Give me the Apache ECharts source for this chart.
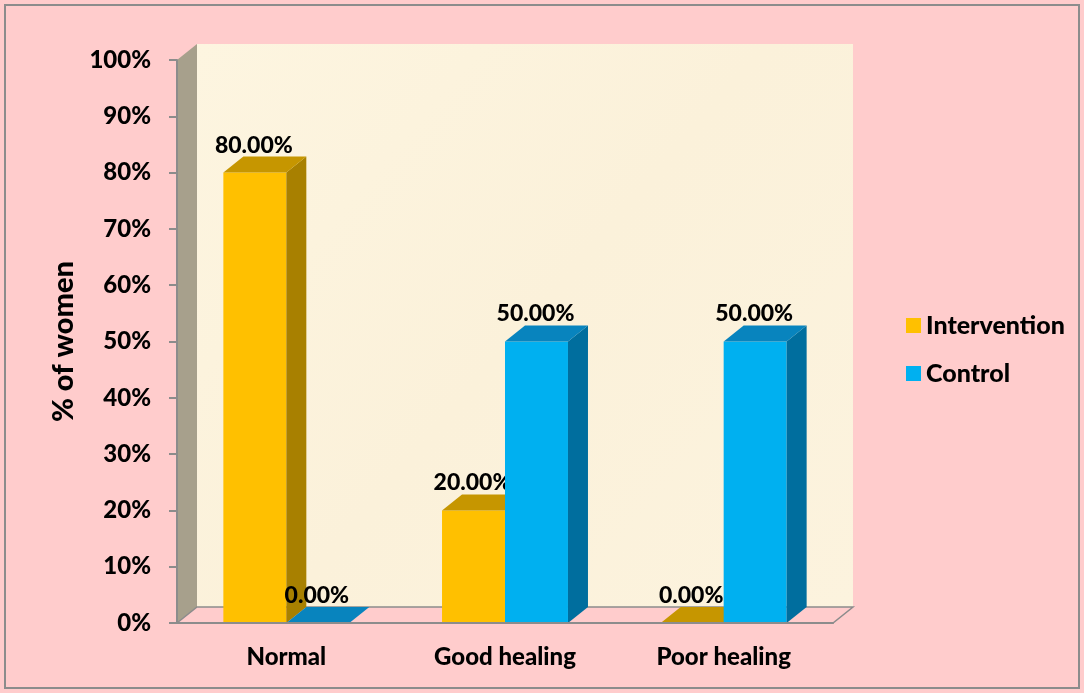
<!DOCTYPE html>
<html>
<head>
<meta charset="utf-8">
<script src="https://cdn.jsdelivr.net/npm/echarts@6/dist/echarts.min.js"></script>
<style>
  html, body { margin: 0; padding: 0; background: #FFCCCC; }
  #chart { width: 1084px; height: 693px; }
</style>
</head>
<body>
<div id="chart"></div>
<script>
// Healing outcome by group, share of women (%)
const categories = ['Normal', 'Good healing', 'Poor healing'];
const intervention = [80, 20, 0];
const control = [0, 50, 50];
const seriesNames = ['Intervention', 'Control'];

const FONT = 'Lato, "Open Sans", sans-serif';
const WEIGHT = 900;
const DX = 20;        // bar depth, horizontal
const DY = 16;        // bar depth, vertical
const WALL_DX = 20;   // wall depth
const WALL_DY = 16;
const BAR_RATIO = 0.288;

const palette = [
  { front: '#FFC000', top: '#C69600', side: '#A88000' },
  { front: '#00B0F0', top: '#0884BE', side: '#006E9E' }
];

// 3D bar: front face, side face, top face and a value label
function barRenderer(idx) {
  const c = palette[idx];
  return function (params, api) {
    const cat = api.value(0);
    const val = api.value(1);
    const base = api.coord([cat, 0]);
    const peak = api.coord([cat, val]);
    const band = api.size([1, 0])[0];
    const w = band * BAR_RATIO;
    const x0 = base[0] + (idx === 0 ? -w : 0);
    const x1 = x0 + w;
    const yb = base[1];
    const yt = peak[1];
    const children = [];
    if (yb - yt > 0.5) {
      children.push({
        type: 'rect',
        shape: { x: x0, y: yt, width: w, height: yb - yt },
        style: { fill: c.front }
      });
      children.push({
        type: 'polygon',
        shape: { points: [[x1, yt], [x1 + DX, yt - DY], [x1 + DX, yb - DY], [x1, yb]] },
        style: { fill: c.side }
      });
    }
    children.push({
      type: 'polygon',
      shape: { points: [[x0, yt], [x0 + DX, yt - DY], [x1 + DX, yt - DY], [x1, yt]] },
      style: { fill: c.top }
    });
    children.push({
      type: 'text',
      style: {
        x: (x0 + x1) / 2 - 1,
        y: yt - DY,
        text: val.toFixed(2) + '%',
        align: 'center',
        verticalAlign: 'bottom',
        fill: '#000',
        font: WEIGHT + ' 23px ' + FONT
      }
    });
    return { type: 'group', children: children };
  };
}

// Back wall, side wall and floor of the plot box
function frameRenderer(params) {
  const r = params.coordSys;
  const x = r.x, y = r.y, w = r.width, h = r.height;
  return {
    type: 'group',
    children: [
      {
        type: 'rect',
        shape: { x: x + WALL_DX, y: y - WALL_DY, width: w, height: h },
        style: {
          fill: new echarts.graphic.LinearGradient(0, 0, 1, 1, [
            { offset: 0, color: '#FDF5E0' },
            { offset: 0.5, color: '#FBF1DA' },
            { offset: 1, color: '#FCF3DE' }
          ])
        }
      },
      {
        type: 'polygon',
        shape: { points: [[x, y], [x + WALL_DX, y - WALL_DY], [x + WALL_DX, y + h - WALL_DY], [x, y + h]] },
        style: { fill: '#A7A08C' }
      },
      {
        type: 'polygon',
        shape: { points: [[x, y + h], [x + WALL_DX, y + h - WALL_DY], [x + w + WALL_DX, y + h - WALL_DY], [x + w, y + h]] },
        style: { fill: '#FFCCCC', stroke: '#8C8C8C', lineWidth: 1.5 }
      }
    ]
  };
}

const chart = echarts.init(document.getElementById('chart'), null, { renderer: 'canvas' });

chart.setOption({
  backgroundColor: '#FFCCCC',
  animation: false,
  graphic: [{
    type: 'rect',
    shape: { x: 5, y: 5, width: 1074, height: 683 },
    style: { fill: 'none', stroke: '#8C8C8C', lineWidth: 2 },
    z: 100
  }],
  grid: { left: 177, right: 251, top: 60, bottom: 70 },
  legend: {
    data: seriesNames,
    orient: 'vertical',
    left: 901,
    top: 308,
    icon: 'rect',
    itemWidth: 15,
    itemHeight: 15,
    itemGap: 23,
    textStyle: { fontFamily: FONT, fontWeight: WEIGHT, fontSize: 25, color: '#000' }
  },
  xAxis: {
    type: 'category',
    data: categories,
    z: 3,
    axisLine: { lineStyle: { color: '#8C8C8C', width: 2 } },
    axisTick: { show: false },
    axisLabel: { margin: 22, fontFamily: FONT, fontWeight: WEIGHT, fontSize: 24, color: '#000' }
  },
  yAxis: {
    type: 'value',
    min: 0,
    max: 100,
    interval: 10,
    z: 3,
    name: '% of women',
    nameLocation: 'middle',
    nameGap: 98,
    nameTextStyle: { fontFamily: FONT, fontWeight: WEIGHT, fontSize: 29, color: '#000' },
    axisLine: { show: true, lineStyle: { color: '#8C8C8C', width: 2 } },
    axisTick: { show: true, length: 8, lineStyle: { color: '#8C8C8C', width: 2 } },
    splitLine: { show: false },
    axisLabel: {
      margin: 26,
      formatter: '{value}%',
      fontFamily: FONT, fontWeight: WEIGHT, fontSize: 24, color: '#000'
    }
  },
  series: [
    {
      type: 'custom',
      name: 'frame',
      silent: true,
      z: 0,
      renderItem: frameRenderer,
      data: [[0, 0]]
    },
    {
      type: 'custom',
      name: seriesNames[0],
      z: 2,
      itemStyle: { color: palette[0].front },
      renderItem: barRenderer(0),
      data: intervention.map((v, i) => [i, v])
    },
    {
      type: 'custom',
      name: seriesNames[1],
      z: 2,
      itemStyle: { color: palette[1].front },
      renderItem: barRenderer(1),
      data: control.map((v, i) => [i, v])
    }
  ]
});
</script>
</body>
</html>
